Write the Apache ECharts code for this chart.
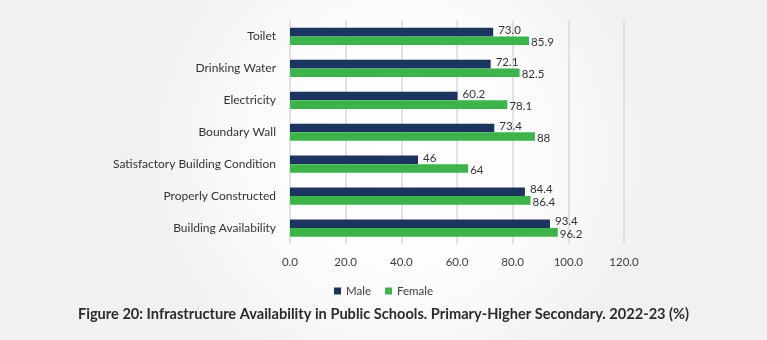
<!DOCTYPE html>
<html>
<head>
<meta charset="utf-8">
<script src="https://cdn.jsdelivr.net/npm/echarts@6/dist/echarts.min.js"></script>
<style>
  html, body { margin: 0; padding: 0; }
  #chart { width: 767px; height: 340px; }
</style>
</head>
<body>
<div id="chart"></div>
<script>
// Infrastructure indicators, listed top to bottom
const categories = [
  'Toilet',
  'Drinking Water',
  'Electricity',
  'Boundary Wall',
  'Satisfactory Building Condition',
  'Properly Constructed',
  'Building Availability'
];
// Shares (%) as printed on the bars
const maleLabels = ['73.0', '72.1', '60.2', '73.4', '46', '84.4', '93.4'];
const femaleLabels = ['85.9', '82.5', '78.1', '88', '64', '86.4', '96.2'];
const maleValues = maleLabels.map(Number);
const femaleValues = femaleLabels.map(Number);
const xTicks = [0, 20, 40, 60, 80, 100, 120];

const chart = echarts.init(document.getElementById('chart'), null, { renderer: 'canvas' });

const labelText = (labels) => (p) => labels[p.dataIndex];

chart.setOption({
  backgroundColor: {
    type: 'radial', x: 0.52, y: 0.45, r: 0.75,
    colorStops: [
      { offset: 0, color: '#ffffff' },
      { offset: 0.55, color: '#fcfcfd' },
      { offset: 1, color: '#f1f1f4' }
    ]
  },
  textStyle: { fontFamily: 'Lato' },
  title: {
    text: 'Figure 20: Infrastructure Availability in Public Schools. Primary-Higher Secondary. 2022-23 (%)',
    left: 'center', top: 302,
    textStyle: { fontFamily: 'Lato', fontWeight: 'bold', fontSize: 14.6, color: '#2b2b2b' }
  },
  legend: {
    data: ['Male', 'Female'],
    left: 'center', top: 280,
    itemWidth: 7, itemHeight: 7, itemGap: 14,
    icon: 'rect',
    textStyle: { fontFamily: 'Lato', fontSize: 11.5, color: '#404040' }
  },
  grid: { left: 290, right: 143, top: 20.5, bottom: 96, containLabel: false },
  xAxis: {
    type: 'value',
    min: xTicks[0], max: xTicks[xTicks.length - 1], interval: 20,
    axisLine: { show: false },
    axisTick: { show: false },
    axisLabel: {
      margin: 12, fontSize: 11.5, color: '#404040', fontFamily: 'Lato',
      formatter: (v) => v.toFixed(1)
    },
    splitLine: { lineStyle: { color: '#d9d9d9', width: 1.5 } }
  },
  yAxis: {
    type: 'category',
    data: categories,
    inverse: true,
    axisLine: { show: false },
    axisTick: { show: false },
    axisLabel: { margin: 14, fontSize: 12, color: '#333333', fontFamily: 'Lato' }
  },
  series: [
    {
      name: 'Male', type: 'bar', data: maleValues,
      barGap: '0%', barCategoryGap: '46%',
      itemStyle: { color: '#1c355e' },
      label: {
        show: true, position: 'right', distance: 5, offset: [0, -2],
        fontSize: 11.5, color: '#333333', fontFamily: 'Lato',
        formatter: labelText(maleLabels)
      }
    },
    {
      name: 'Female', type: 'bar', data: femaleValues,
      itemStyle: { color: '#3cb44b' },
      label: {
        show: true, position: 'right', distance: 2, offset: [0, 2],
        fontSize: 11.5, color: '#333333', fontFamily: 'Lato',
        formatter: labelText(femaleLabels)
      }
    }
  ]
});
</script>
</body>
</html>
